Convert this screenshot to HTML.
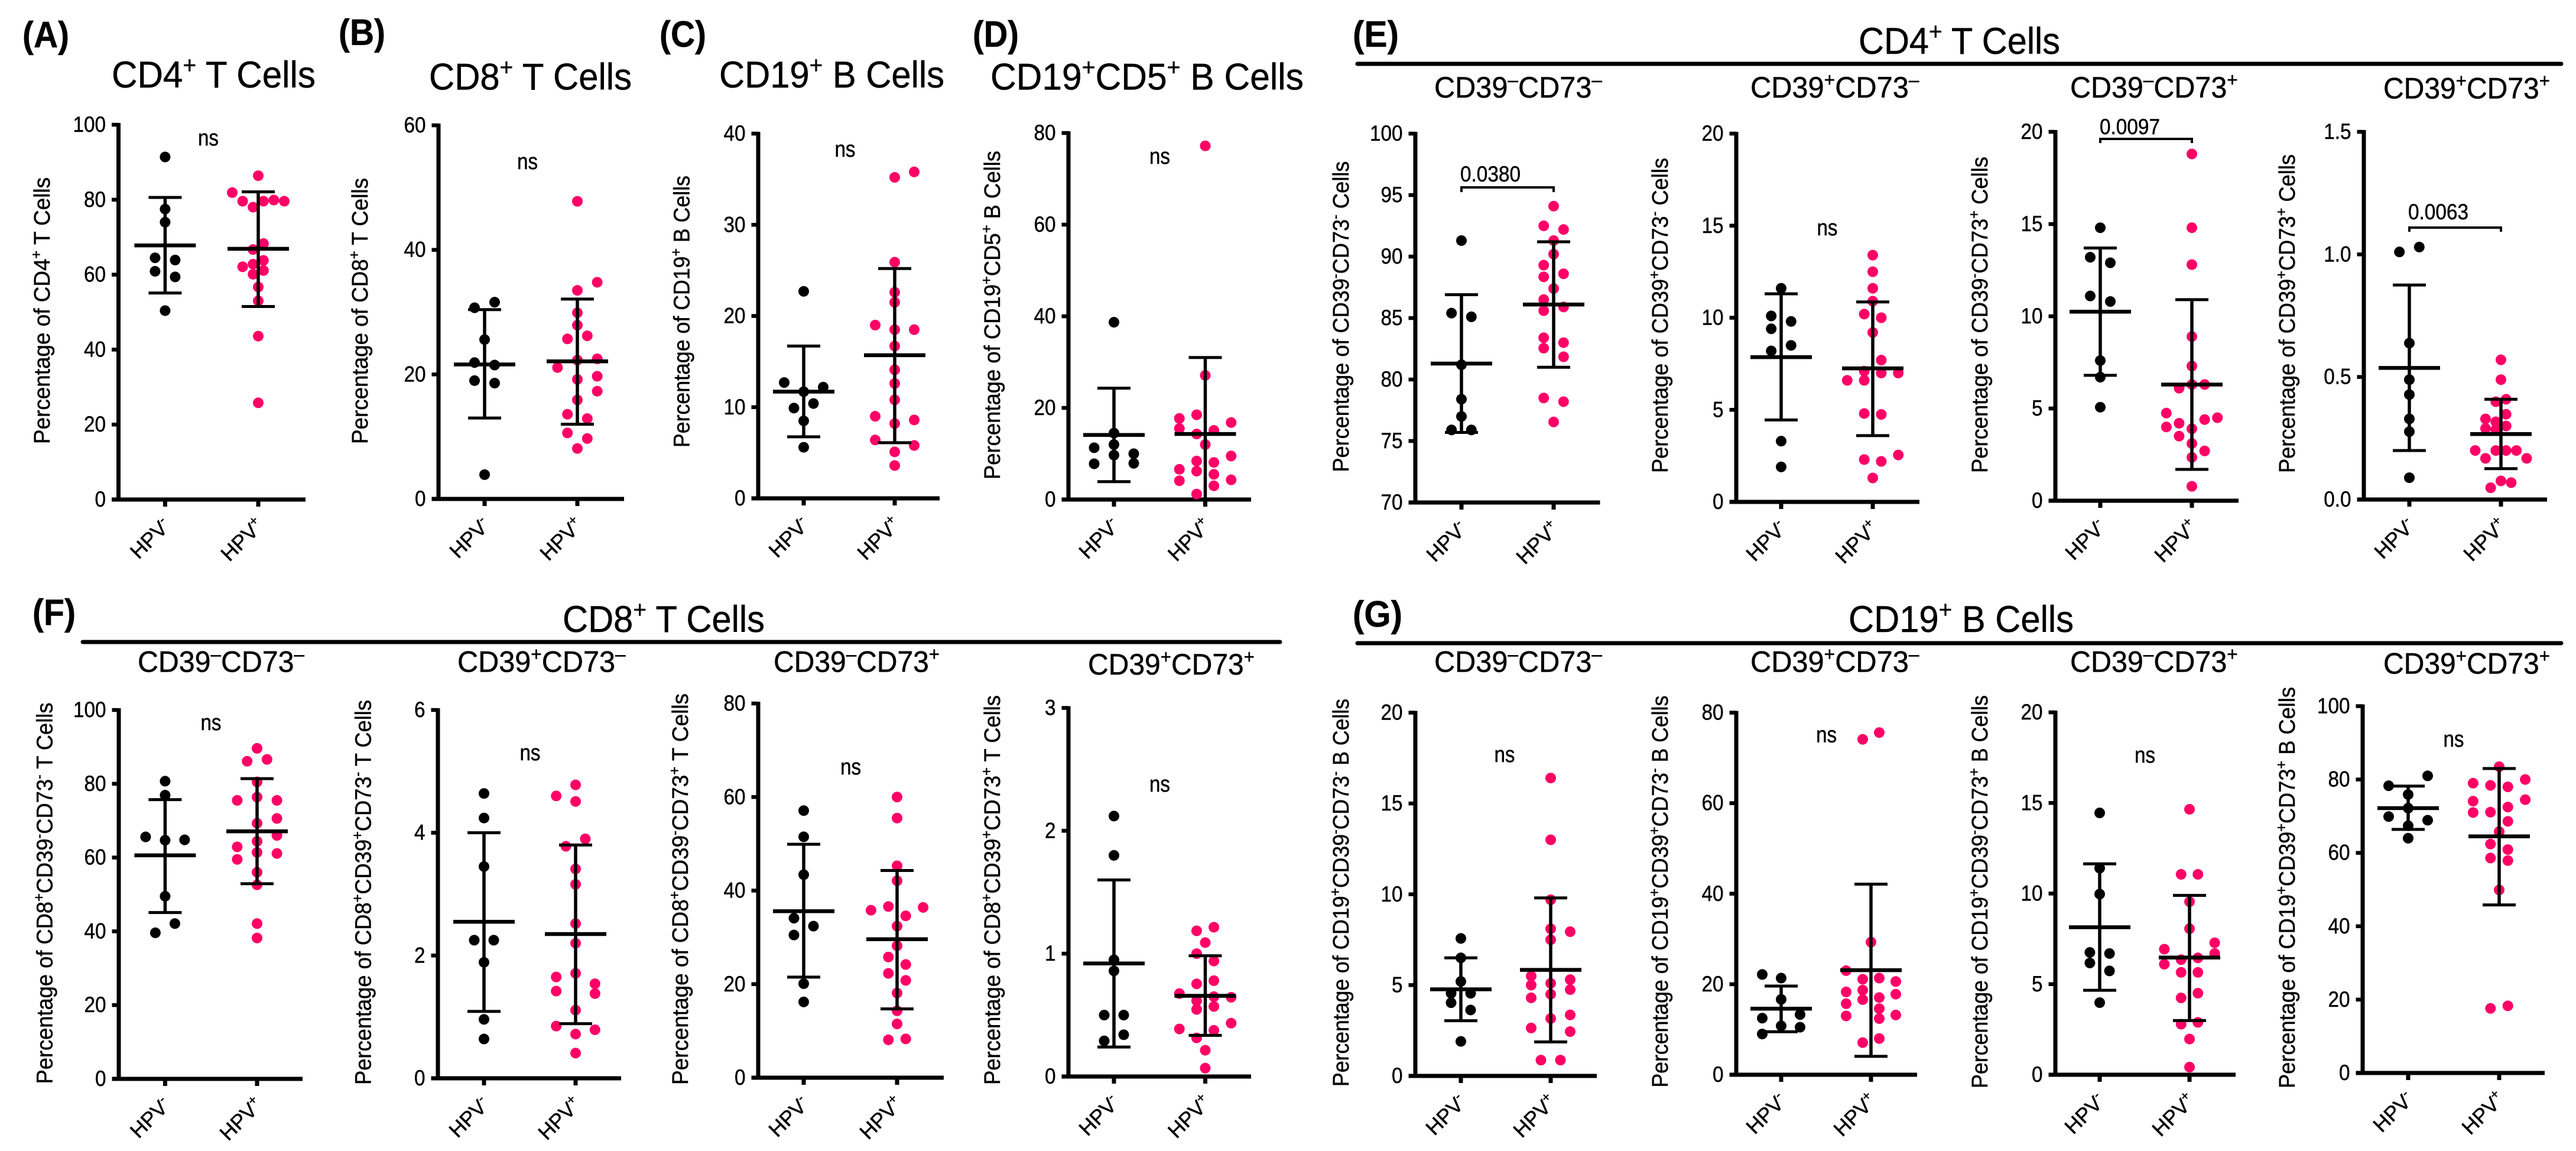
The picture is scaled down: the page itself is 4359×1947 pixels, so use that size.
<!DOCTYPE html>
<html lang="en">
<head>
<meta charset="utf-8">
<title>Lymphocyte subsets by HPV status</title>
<style>
html,body{margin:0;padding:0;background:#fff;}
svg{display:block;}
text{font-family:"Liberation Sans",Arial,sans-serif;fill:#000;white-space:pre;stroke:#000;stroke-width:0.5px;}
</style>
</head>
<body>
<svg id="figure" xmlns="http://www.w3.org/2000/svg" width="4359" height="1947" viewBox="0 0 4359 1947">
<rect x="0" y="0" width="4359" height="1947" fill="#fff"/>
<g font-weight="700" font-size="62">
<text x="38" y="80" textLength="79" lengthAdjust="spacingAndGlyphs">(A)</text>
<text x="573" y="76" textLength="79" lengthAdjust="spacingAndGlyphs">(B)</text>
<text x="1116" y="79" textLength="79" lengthAdjust="spacingAndGlyphs">(C)</text>
<text x="1646" y="79" textLength="78" lengthAdjust="spacingAndGlyphs">(D)</text>
<text x="2289" y="79" textLength="78" lengthAdjust="spacingAndGlyphs">(E)</text>
<text x="55" y="1057" textLength="73" lengthAdjust="spacingAndGlyphs">(F)</text>
<text x="2289" y="1060" textLength="84" lengthAdjust="spacingAndGlyphs">(G)</text>
</g>
<g>
<text x="3145" y="91" font-size="63" textLength="341" lengthAdjust="spacingAndGlyphs">CD4<tspan font-size="41" dy="-24">+</tspan><tspan dy="24"> T Cells</tspan></text>
<line x1="2297" y1="108" x2="4334" y2="108" stroke="#000" stroke-width="7" stroke-linecap="round"/>
<text x="952" y="1069" font-size="63" textLength="342" lengthAdjust="spacingAndGlyphs">CD8<tspan font-size="41" dy="-24">+</tspan><tspan dy="24"> T Cells</tspan></text>
<line x1="140" y1="1086" x2="2166" y2="1086" stroke="#000" stroke-width="7" stroke-linecap="round"/>
<text x="3128" y="1069" font-size="63" textLength="381" lengthAdjust="spacingAndGlyphs">CD19<tspan font-size="41" dy="-24">+</tspan><tspan dy="24"> B Cells</tspan></text>
<line x1="2297" y1="1088" x2="4334" y2="1088" stroke="#000" stroke-width="7" stroke-linecap="round"/>
</g>
<g id="panels"></g>
</svg>
<script>
const categories = ['HPV^-', 'HPV^+'];

const panelATicks = [0, 20, 40, 60, 80, 100];
const panelANeg = [91.4, 77.5, 74.0, 64.5, 63.9, 60.9, 59.4, 50.4];
const panelANegLanes = [0, 0, 0, -1, 1, -1, 1, 0];
const panelANegSummary = [67.8, 80.6, 55.1];
const panelAPos = [86.4, 81.9, 79.6, 78.0, 79.6, 79.9, 79.6, 68.3, 66.7, 63.8, 62.8, 62.1, 61.1, 60.1, 56.7, 53.0, 43.6, 25.8];
const panelAPosLanes = [0, -5, -3, -1, 1, 3, 5, 1, -1, 1, -1, -3, 1, -1, 0, 0, 0, 0];
const panelAPosSummary = [66.9, 82.1, 51.5];

const panelBTicks = [0, 20, 40, 60];
const panelBNeg = [30.7, 31.6, 25.6, 21.9, 21.5, 19.0, 18.6, 3.9];
const panelBNegLanes = [-1, 1, 0, -1, 1, -1, 1, 0];
const panelBNegSummary = [21.6, 30.4, 13.0];
const panelBPos = [47.8, 34.8, 33.5, 29.9, 27.9, 25.7, 26.2, 22.3, 22.5, 21.1, 19.2, 19.7, 17.3, 15.9, 13.6, 12.9, 10.6, 9.7, 8.1];
const panelBPosLanes = [0, 2, 0, 0, 0, -1, 1, 0, 2, -2, 0, 2, 2, 0, -1, 1, -1, 1, 0];
const panelBPosSummary = [22.1, 32.1, 12.0];

const panelCTicks = [0, 10, 20, 30, 40];
const panelCNeg = [22.7, 12.7, 12.2, 11.7, 9.9, 10.4, 8.5, 5.6];
const panelCNegLanes = [0, -2, 2, 0, -1, 1, 0, 0];
const panelCNegSummary = [11.7, 16.7, 6.75];
const panelCPos = [35.2, 35.8, 25.9, 22.6, 21.5, 19.0, 18.5, 18.5, 16.7, 14.1, 12.6, 10.8, 9.0, 8.6, 8.2, 6.4, 5.8, 5.1, 3.6];
const panelCPosLanes = [0, 1, 0, 0, 0, -1, 0, 1, 0, 0, 0, 0, -1, 1, 0, -1, 1, 0, 0];
const panelCPosSummary = [15.7, 25.2, 6.1];

const panelDTicks = [0, 20, 40, 60, 80];
const panelDNeg = [38.7, 11.3, 7.8, 14.5, 12.0, 9.7, 10.0, 7.9];
const panelDNegLanes = [0, -1, -1, 0, 0, 0, 1, 1];
const panelDNegSummary = [14.1, 24.3, 3.9];
const panelDPos = [77.2, 27.1, 18.5, 17.7, 15.5, 16.8, 15.1, 14.3, 12.0, 9.5, 8.4, 8.1, 6.6, 6.2, 5.5, 4.1, 4.3, 3.0, 1.2];
const panelDPosLanes = [0, 0, -1, -3, -3, 3, 1, -1, 0, 3, -1, 1, -3, -1, 1, -3, 3, 1, -1];
const panelDPosSummary = [14.3, 31.0, -2.4];

const panelE1Ticks = [70, 75, 80, 85, 90, 95, 100];
const panelE1Neg = [91.3, 85.4, 85.1, 81.2, 78.4, 77.0, 75.9, 75.9];
const panelE1NegLanes = [0, -1, 1, 0, 0, 0, -1, 1];
const panelE1NegSummary = [81.3, 86.9, 75.7];
const panelE1Pos = [94.1, 92.5, 92.2, 91.3, 90.2, 89.3, 88.6, 88.35, 87.4, 86.5, 85.9, 85.6, 83.4, 83.0, 82.55, 81.85, 78.5, 78.2, 76.55];
const panelE1PosLanes = [0, -1, 1, 0, 0, -1, 1, -1, 0, -1, 1, -1, -1, 1, -1, 1, -1, 1, 0];
const panelE1PosSummary = [86.1, 91.2, 81.0];

const panelE2Ticks = [0, 5, 10, 15, 20];
const panelE2Neg = [11.6, 10.1, 9.8, 9.4, 8.5, 8.2, 3.3, 1.9];
const panelE2NegLanes = [0, -1, 1, -1, 1, -1, 0, 0];
const panelE2NegSummary = [7.86, 11.3, 4.45];
const panelE2Pos = [13.4, 12.5, 11.6, 10.9, 10.2, 10.0, 9.2, 7.7, 7.1, 7.0, 7.0, 6.6, 6.6, 4.8, 4.75, 2.55, 2.3, 2.2, 1.3];
const panelE2PosLanes = [0, 0, 0, 0, -1, 1, 0, 1, -1, 1, 3, -3, -1, -1, 1, 3, -1, 1, 0];
const panelE2PosSummary = [7.25, 10.86, 3.6];

const panelE3Ticks = [0, 5, 10, 15, 20];
const panelE3Neg = [14.8, 13.2, 12.9, 11.1, 10.8, 7.6, 6.7, 5.07];
const panelE3NegLanes = [0, -1, 1, -1, 1, 0, 0, 0];
const panelE3NegSummary = [10.25, 13.7, 6.8];
const panelE3Pos = [18.8, 14.8, 12.8, 8.9, 7.3, 6.3, 6.3, 6.1, 4.75, 4.4, 4.5, 4.2, 4.0, 3.9, 3.5, 3.1, 2.7, 2.35, 0.78];
const panelE3PosLanes = [0, 0, 0, 0, 0, 0, 1, -1, -2, 1, 2, -1, -2, 0, -1, 0, 1, 0, 0];
const panelE3PosSummary = [6.3, 10.9, 1.7];

const panelE4Ticks = [0, 0.5, 1, 1.5];
const panelE4Neg = [1.01, 1.03, 0.638, 0.489, 0.428, 0.329, 0.277, 0.089];
const panelE4NegLanes = [-1, 1, 0, 0, 0, 0, 0, 0];
const panelE4NegSummary = [0.537, 0.875, 0.20];
const panelE4Pos = [0.57, 0.489, 0.409, 0.399, 0.348, 0.329, 0.317, 0.30, 0.29, 0.285, 0.20, 0.20, 0.20, 0.20, 0.168, 0.168, 0.076, 0.069, 0.048];
const panelE4PosLanes = [0, 0, 1, -1, 1, -3, -1, 1, -3, -1, -5, -1, 1, 3, -3, 5, 0, 2, -2];
const panelE4PosSummary = [0.267, 0.409, 0.126];

const panelF1Ticks = [0, 20, 40, 60, 80, 100];
const panelF1Neg = [80.7, 76.9, 65.6, 64.7, 64.8, 49.5, 42.1, 39.6];
const panelF1NegLanes = [0, 0, -2, 0, 2, 0, 1, -1];
const panelF1NegSummary = [60.6, 75.7, 45.1];
const panelF1Pos = [89.6, 86.1, 86.6, 80.5, 76.4, 75.5, 75.5, 70.6, 69.3, 66.0, 64.4, 62.9, 61.4, 61.1, 59.5, 56.0, 52.6, 42.1, 38.2];
const panelF1PosLanes = [0, -1, 1, 0, 0, -2, 2, 2, 0, 2, 0, -2, 0, 2, -2, 0, 0, 0, 0];
const panelF1PosSummary = [67.1, 81.4, 52.9];

const panelF2Ticks = [0, 2, 4, 6];
const panelF2Neg = [4.64, 4.24, 3.45, 2.25, 2.25, 1.89, 0.96, 0.64];
const panelF2NegLanes = [0, 0, 0, -1, 1, 0, 0, 0];
const panelF2NegSummary = [2.55, 4.0, 1.09];
const panelF2Pos = [4.78, 4.6, 4.51, 3.9, 3.78, 3.41, 3.16, 2.52, 2.2, 1.71, 1.65, 1.54, 1.42, 1.38, 1.11, 0.85, 0.79, 0.72, 0.41];
const panelF2PosLanes = [0, -2, 0, 1, -1, 0, 0, 0, 0, 0, -2, 2, -2, 2, 0, -2, 2, 0, 0];
const panelF2PosSummary = [2.35, 3.8, 0.89];

const panelF3Ticks = [0, 20, 40, 60, 80];
const panelF3Neg = [57.1, 51.5, 43.4, 34.1, 32.4, 30.5, 20.1, 16.2];
const panelF3NegLanes = [0, 0, 0, -1, 1, -1, 0, 0];
const panelF3NegSummary = [35.6, 49.9, 21.5];
const panelF3Pos = [60.0, 55.5, 45.3, 42.1, 36.6, 36.4, 35.8, 34.6, 32.4, 28.2, 25.8, 24.2, 22.3, 20.8, 18.1, 14.3, 11.5, 8.3, 8.1];
const panelF3PosLanes = [0, 0, 0, 0, -1, 3, -3, 1, 0, 0, -1, 1, -1, 1, 0, 0, 0, 1, -1];
const panelF3PosSummary = [29.6, 44.3, 14.7];

const panelF4Ticks = [0, 1, 2, 3];
const panelF4Neg = [2.12, 1.80, 0.95, 0.86, 0.50, 0.50, 0.34, 0.29];
const panelF4NegLanes = [0, 0, 0, 0, -1, 1, 1, -1];
const panelF4NegSummary = [0.92, 1.60, 0.24];
const panelF4Pos = [1.215, 1.186, 1.09, 1.0, 0.94, 0.78, 0.754, 0.675, 0.65, 0.645, 0.616, 0.57, 0.546, 0.434, 0.387, 0.376, 0.314, 0.214, 0.068];
const panelF4PosLanes = [1, -1, 0, -1, 1, 1, -1, -3, 1, 3, -1, 1, -1, 3, -3, 1, -1, 0, 0];
const panelF4PosSummary = [0.657, 0.983, 0.335];

const panelG1Ticks = [0, 5, 10, 15, 20];
const panelG1Neg = [7.57, 6.5, 5.2, 4.55, 4.55, 4.03, 3.63, 1.9];
const panelG1NegLanes = [0, 0, 0, -1, 1, -1, 1, 0];
const panelG1NegSummary = [4.77, 6.5, 3.04];
const panelG1Pos = [16.4, 13.0, 9.7, 8.1, 7.94, 7.5, 5.5, 5.3, 5.1, 5.0, 4.75, 4.5, 4.3, 3.36, 3.16, 2.64, 2.44, 0.87, 0.87];
const panelG1PosLanes = [0, 0, 0, 0, 2, 0, -2, 2, 0, -2, 2, 0, -2, 2, 0, -2, 2, -1, 1];
const panelG1PosSummary = [5.84, 9.8, 1.87];

const panelG2Ticks = [0, 20, 40, 60, 80];
const panelG2Neg = [22.15, 21.35, 16.65, 13.3, 12.5, 10.8, 10.5, 9.0];
const panelG2NegLanes = [-2, 0, 0, 2, -2, 0, 2, -2];
const panelG2NegSummary = [14.6, 19.6, 9.5];
const panelG2Pos = [74.1, 75.6, 29.3, 23.0, 21.35, 21.1, 20.6, 18.7, 18.3, 17.8, 17.05, 16.6, 15.7, 14.6, 13.2, 13.0, 12.4, 8.0, 7.1];
const panelG2PosLanes = [-1, 1, 0, -3, 1, -1, 3, -1, -3, 3, 1, -1, -3, 1, 3, -3, 1, 1, -1];
const panelG2PosSummary = [23.1, 42.1, 4.06];

const panelG3Ticks = [0, 5, 10, 15, 20];
const panelG3Neg = [14.45, 11.4, 9.97, 6.75, 6.69, 6.17, 5.73, 3.98];
const panelG3NegLanes = [0, 0, 0, -1, 1, -1, 1, 0];
const panelG3NegSummary = [8.14, 11.64, 4.66];
const panelG3Pos = [14.65, 11.06, 11.06, 9.55, 8.06, 7.28, 6.93, 6.69, 6.45, 6.35, 6.1, 5.65, 5.65, 4.5, 4.24, 2.89, 2.79, 1.97, 0.42];
const panelG3PosLanes = [0, -1, 1, 0, 0, 3, -3, 3, 1, -1, -3, -1, 1, 1, -1, 1, -1, 0, 0];
const panelG3PosSummary = [6.47, 9.9, 2.99];

const panelG4Ticks = [0, 20, 40, 60, 80, 100];
const panelG4Neg = [81.0, 78.3, 75.9, 72.2, 69.9, 68.9, 67.4, 64.0];
const panelG4NegLanes = [1, -1, 0, 0, -1, 1, 0, 0];
const panelG4NegSummary = [72.2, 78.2, 66.4];
const panelG4Pos = [83.5, 80.0, 79.0, 78.4, 78.0, 74.5, 74.1, 72.5, 71.1, 71.0, 68.6, 65.8, 62.4, 60.9, 58.6, 57.9, 49.9, 18.3, 17.6];
const panelG4PosLanes = [0, 3, -3, -1, 1, 3, -3, 1, -1, -3, 1, 0, -1, 1, -1, 1, 0, 1, -1];
const panelG4PosSummary = [64.5, 83.0, 45.8];

const NS = 'http://www.w3.org/2000/svg';
const INK = '#000000';
const PINK = '#fe0066';

const panelSpecs = [
  {id:'a', ticks:panelATicks, neg:panelANeg, negL:panelANegLanes, negS:panelANegSummary, pos:panelAPos, posL:panelAPosLanes, posS:panelAPosSummary,
   ax:200.5, end:517, y0:845, yt:211, c1:279.4, c2:437, negStep:17, posStep:8.8,
   title:'CD4^+ T Cells', tx:189, ty:148, ts:63, tl:345, yLabel:'Percentage of CD4^+ T Cells', yx:82, yb:751, yl:451, note:{text:'ns', cx:352.5, y:246}},
  {id:'b', ticks:panelBTicks, neg:panelBNeg, negL:panelBNegLanes, negS:panelBNegSummary, pos:panelBPos, posL:panelBPosLanes, posS:panelBPosSummary,
   ax:742, end:1056, y0:844, yt:212, c1:820, c2:977, negStep:17, posStep:16.8,
   title:'CD8^+ T Cells', tx:726, ty:151.5, ts:63, tl:343, yLabel:'Percentage of CD8^+ T Cells', yx:620, yb:751, yl:450, note:{text:'ns', cx:892.6, y:286}},
  {id:'c', ticks:panelCTicks, neg:panelCNeg, negL:panelCNegLanes, negS:panelCNegSummary, pos:panelCPos, posL:panelCPosLanes, posS:panelCPosSummary,
   ax:1283, end:1590, y0:843, yt:226, c1:1360, c2:1514, negStep:16.5, posStep:33,
   title:'CD19^+ B Cells', tx:1217, ty:148, ts:63, tl:381, yLabel:'Percentage of CD19^+ B Cells', yx:1164.5, yb:757, yl:460, note:{text:'ns', cx:1430, y:265}},
  {id:'d', ticks:panelDTicks, neg:panelDNeg, negL:panelDNegLanes, negS:panelDNegSummary, pos:panelDPos, posL:panelDPosLanes, posS:panelDPosSummary,
   ax:1808, end:2117, y0:845, yt:225, c1:1885, c2:2039.5, negStep:33.5, posStep:14.6,
   title:'CD19^+CD5^+ B Cells', tx:1676, ty:151.5, ts:63, tl:530, yLabel:'Percentage of CD19^+CD5^+ B Cells', yx:1690, yb:811, yl:556, note:{text:'ns', cx:1962.5, y:277}},
  {id:'e1', ticks:panelE1Ticks, neg:panelE1Neg, negL:panelE1NegLanes, negS:panelE1NegSummary, pos:panelE1Pos, posL:panelE1PosLanes, posS:panelE1PosSummary,
   ax:2395, end:2707.5, y0:850, yt:226, c1:2473, c2:2629, negStep:16.8, posStep:16.8,
   title:'CD39^–CD73^–', tx:2427, ty:165, ts:50, tl:284, yLabel:'Percentage of CD39^-CD73^- Cells', yx:2280, yb:798.6, yl:526, bracket:{text:'0.0380', tx:2471, ty:307, y:317, drop:8}},
  {id:'e2', ticks:panelE2Ticks, neg:panelE2Neg, negL:panelE2NegLanes, negS:panelE2NegSummary, pos:panelE2Pos, posL:panelE2PosLanes, posS:panelE2PosSummary,
   ax:2938, end:3248, y0:849, yt:226, c1:3014, c2:3169, negStep:16.8, posStep:14.4,
   title:'CD39^+CD73^–', tx:2962, ty:165, ts:50, tl:285.5, yLabel:'Percentage of CD39^+CD73^- Cells', yx:2820, yb:800, yl:533, note:{text:'ns', cx:3092, y:398}},
  {id:'e3', ticks:panelE3Ticks, neg:panelE3Neg, negL:panelE3NegLanes, negS:panelE3NegSummary, pos:panelE3Pos, posL:panelE3PosLanes, posS:panelE3PosSummary,
   ax:3478, end:3788, y0:847, yt:223, c1:3554, c2:3709, negStep:17, posStep:21.6,
   title:'CD39^–CD73^+', tx:3503, ty:165, ts:50, tl:283.7, yLabel:'Percentage of CD39^-CD73^+ Cells', yx:3361, yb:800, yl:535, bracket:{text:'0.0097', tx:3553, ty:227, y:235, drop:7}},
  {id:'e4', ticks:panelE4Ticks, decimals:1, neg:panelE4Neg, negL:panelE4NegLanes, negS:panelE4NegSummary, pos:panelE4Pos, posL:panelE4PosLanes, posS:panelE4PosSummary,
   ax:4000, end:4310, y0:845, yt:223, c1:4077, c2:4232, negStep:16.8, posStep:8.7,
   title:'CD39^+CD73^+', tx:4033, ty:166.6, ts:50, tl:282, yLabel:'Percentage of CD39^+CD73^+ Cells', yx:3881, yb:800, yl:539, bracket:{text:'0.0063', tx:4075, ty:371, y:385, drop:7}},
  {id:'f1', ticks:panelF1Ticks, neg:panelF1Neg, negL:panelF1NegLanes, negS:panelF1NegSummary, pos:panelF1Pos, posL:panelF1PosLanes, posS:panelF1PosSummary,
   ax:201, end:512, y0:1825, yt:1201, c1:279.4, c2:435, negStep:16.5, posStep:16.8,
   title:'CD39^–CD73^–', tx:233, ty:1136.5, ts:50, tl:282, yLabel:'Percentage of CD8^+CD39^-CD73^- T Cells', yx:86.5, yb:1833.5, yl:645, note:{text:'ns', cx:357, y:1235}},
  {id:'f2', ticks:panelF2Ticks, neg:panelF2Neg, negL:panelF2NegLanes, negS:panelF2NegSummary, pos:panelF2Pos, posL:panelF2PosLanes, posS:panelF2PosSummary,
   ax:741, end:1051, y0:1824, yt:1201, c1:819, c2:974, negStep:16.5, posStep:16.4,
   title:'CD39^+CD73^–', tx:774, ty:1136.5, ts:50, tl:284.6, yLabel:'Percentage of CD8^+CD39^+CD73^- T Cells', yx:625.6, yb:1835, yl:651, note:{text:'ns', cx:897, y:1286}},
  {id:'f3', ticks:panelF3Ticks, neg:panelF3Neg, negL:panelF3NegLanes, negS:panelF3NegSummary, pos:panelF3Pos, posL:panelF3PosLanes, posS:panelF3PosSummary,
   ax:1283, end:1597, y0:1823, yt:1190, c1:1360, c2:1518, negStep:16.5, posStep:14.7,
   title:'CD39^–CD73^+', tx:1309, ty:1136.5, ts:50, tl:281, yLabel:'Percentage of CD8^+CD39^-CD73^+ T Cells', yx:1162, yb:1835, yl:662, note:{text:'ns', cx:1439.6, y:1310}},
  {id:'f4', ticks:panelF4Ticks, neg:panelF4Neg, negL:panelF4NegLanes, negS:panelF4NegSummary, pos:panelF4Pos, posL:panelF4PosLanes, posS:panelF4PosSummary,
   ax:1808, end:2117, y0:1821, yt:1197.5, c1:1885, c2:2039.5, negStep:16.5, posStep:14.6,
   title:'CD39^+CD73^+', tx:1841, ty:1141, ts:50, tl:282, yLabel:'Percentage of CD8^+CD39^+CD73^+ T Cells', yx:1690, yb:1835, yl:659, note:{text:'ns', cx:1962.5, y:1339}},
  {id:'g1', ticks:panelG1Ticks, neg:panelG1Neg, negL:panelG1NegLanes, negS:panelG1NegSummary, pos:panelG1Pos, posL:panelG1PosLanes, posS:panelG1PosSummary,
   ax:2395, end:2702, y0:1820, yt:1205.5, c1:2472, c2:2624, negStep:16.5, posStep:16.5,
   title:'CD39^–CD73^–', tx:2427, ty:1136.5, ts:50, tl:284, yLabel:'Percentage of CD19^+CD39^-CD73^- B Cells', yx:2280, yb:1838, yl:656, note:{text:'ns', cx:2546, y:1289}},
  {id:'g2', ticks:panelG2Ticks, neg:panelG2Neg, negL:panelG2NegLanes, negS:panelG2NegSummary, pos:panelG2Pos, posL:panelG2PosLanes, posS:panelG2PosSummary,
   ax:2938, end:3244, y0:1818, yt:1205.5, c1:3014, c2:3166, negStep:16, posStep:14,
   title:'CD39^+CD73^–', tx:2962, ty:1136.5, ts:50, tl:285.5, yLabel:'Percentage of CD19^+CD39^+CD73^- B Cells', yx:2820, yb:1839.6, yl:663, note:{text:'ns', cx:3090.6, y:1255.5}},
  {id:'g3', ticks:panelG3Ticks, neg:panelG3Neg, negL:panelG3NegLanes, negS:panelG3NegSummary, pos:panelG3Pos, posL:panelG3PosLanes, posS:panelG3PosSummary,
   ax:3478, end:3783, y0:1818, yt:1205, c1:3553, c2:3705, negStep:16.6, posStep:14.2,
   title:'CD39^–CD73^+', tx:3503, ty:1136.5, ts:50, tl:283.7, yLabel:'Percentage of CD19^+CD39^-CD73^+ B Cells', yx:3361, yb:1841, yl:665, note:{text:'ns', cx:3629.6, y:1290}},
  {id:'g4', ticks:panelG4Ticks, neg:panelG4Neg, negL:panelG4NegLanes, negS:panelG4NegSummary, pos:panelG4Pos, posL:panelG4PosLanes, posS:panelG4PosSummary,
   ax:3998, end:4306, y0:1815, yt:1194.5, c1:4075, c2:4229, negStep:33, posStep:14.7,
   title:'CD39^+CD73^+', tx:4033, ty:1139.5, ts:50, tl:282, yLabel:'Percentage of CD19^+CD39^+CD73^+ B Cells', yx:3881, yb:1841, yl:679, note:{text:'ns', cx:4152, y:1263}}
];

function svgEl(parent, tag, props) {
  const node = document.createElementNS(NS, tag);
  for (const key in props) node.setAttribute(key, props[key]);
  parent.appendChild(node);
  return node;
}

function richText(parent, source, size, props) {
  const node = svgEl(parent, 'text', Object.assign({'font-size': size}, props));
  const parts = source.split(/\^(.)/);
  const lift = size * 0.38;
  let raised = false;
  parts.forEach(function (chunk, i) {
    if (!chunk) return;
    const span = document.createElementNS(NS, 'tspan');
    span.textContent = chunk;
    if (i % 2 === 1) {
      span.setAttribute('font-size', size * 0.65);
      if (!raised) span.setAttribute('dy', -lift);
      raised = true;
    } else if (raised) {
      span.setAttribute('dy', lift);
      raised = false;
    }
    node.appendChild(span);
  });
  return node;
}

function drawSeries(g, p, values, lanes, summary, catX, step, color, yScale) {
  const baseY = yScale(p.ticks[0]);
  values.forEach(function (value, i) {
    const dot = svgEl(g, 'circle', {cx: catX + lanes[i] * step, cy: yScale(value), r: 9, fill: color});
    
    
  });
  const upperY = yScale(summary[1]);
  const lowerClipped = summary[2] < p.ticks[0];
  const lowerY = lowerClipped ? baseY : yScale(summary[2]);

  const stem = svgEl(g, 'line', {x1: catX, x2: catX, y1: upperY, y2: lowerY, stroke: INK, 'stroke-width': 5.5});
  
  

  const upperCap = svgEl(g, 'line', {x1: catX - 28, x2: catX + 28, y1: upperY, y2: upperY, stroke: INK, 'stroke-width': 5});
  
  

  if (!lowerClipped) {
    const lowerCap = svgEl(g, 'line', {x1: catX - 28, x2: catX + 28, y1: lowerY, y2: lowerY, stroke: INK, 'stroke-width': 5});
    
    
  }

  const meanY = yScale(summary[0]);
  const mean = svgEl(g, 'line', {x1: catX - 52, x2: catX + 52, y1: meanY, y2: meanY, stroke: INK, 'stroke-width': 6.5});
  
  
}

function drawPanel(root, p) {
  const g = svgEl(root, 'g', {});
  
  

  const minV = p.ticks[0];
  const maxV = p.ticks[p.ticks.length - 1];
  const yScale = function (v) { return p.y0 - (v - minV) / (maxV - minV) * (p.y0 - p.yt); };

  const titleEl = richText(g, p.title, p.ts, {x: p.tx, y: p.ty, textLength: p.tl, lengthAdjust: 'spacingAndGlyphs'});
  
  

  const titleX = p.yx + 2;
  const yTitle = richText(g, p.yLabel, 38, {x: titleX, y: p.yb, transform: 'rotate(-90 ' + titleX + ' ' + p.yb + ')', textLength: p.yl, lengthAdjust: 'spacingAndGlyphs'});
  
  

  p.ticks.forEach(function (tick) {
    const ty = yScale(tick);
    const tickMark = svgEl(g, 'line', {x1: p.ax - 11.5, x2: p.ax, y1: ty, y2: ty, stroke: INK, 'stroke-width': 6.5});
    
    

    const tickLabel = svgEl(g, 'text', {x: 0, y: 0, 'font-size': 37, 'text-anchor': 'end', transform: 'translate(' + (p.ax - 21.5) + ' ' + (ty + 12) + ') scale(0.9 1)'});
    tickLabel.textContent = p.decimals ? tick.toFixed(p.decimals) : String(tick);
    
    
  });

  const yAxis = svgEl(g, 'line', {x1: p.ax, x2: p.ax, y1: p.yt - 3, y2: p.y0 + 3, stroke: INK, 'stroke-width': 7});
  
  

  const xAxis = svgEl(g, 'line', {x1: p.ax - 11.5, x2: p.end, y1: p.y0, y2: p.y0, stroke: INK, 'stroke-width': 7});
  
  

  [p.c1, p.c2].forEach(function (cx, i) {
    const xTick = svgEl(g, 'line', {x1: cx, x2: cx, y1: p.y0, y2: p.y0 + 12, stroke: INK, 'stroke-width': 7});
    
    

    const lx = cx + 11.5;
    const ly = p.y0 + 46;
    const xLabel = richText(g, categories[i], 35, {x: lx, y: ly, 'text-anchor': 'end', transform: 'rotate(-45 ' + lx + ' ' + ly + ')'});
    
    
  });

  drawSeries(g, p, p.neg, p.negL, p.negS, p.c1, p.negStep, INK, yScale);
  drawSeries(g, p, p.pos, p.posL, p.posS, p.c2, p.posStep, PINK, yScale);

  if (p.note) {
    const note = svgEl(g, 'text', {x: p.note.cx - 17.5, y: p.note.y, 'font-size': 38, textLength: 35, lengthAdjust: 'spacingAndGlyphs'});
    note.textContent = p.note.text;
    
    
  }
  if (p.bracket) {
    const b = p.bracket;
    const label = svgEl(g, 'text', {x: b.tx, y: b.ty, 'font-size': 37, textLength: 102, lengthAdjust: 'spacingAndGlyphs'});
    label.textContent = b.text;
    
    

    const bar = svgEl(g, 'path', {d: 'M' + p.c1 + ' ' + (b.y + b.drop) + 'V' + b.y + 'H' + p.c2 + 'V' + (b.y + b.drop), fill: 'none', stroke: INK, 'stroke-width': 4});
    
    
  }
}

const panelRoot = document.getElementById('panels');
panelSpecs.forEach(function (p) { drawPanel(panelRoot, p); });
</script>
</body>
</html>
